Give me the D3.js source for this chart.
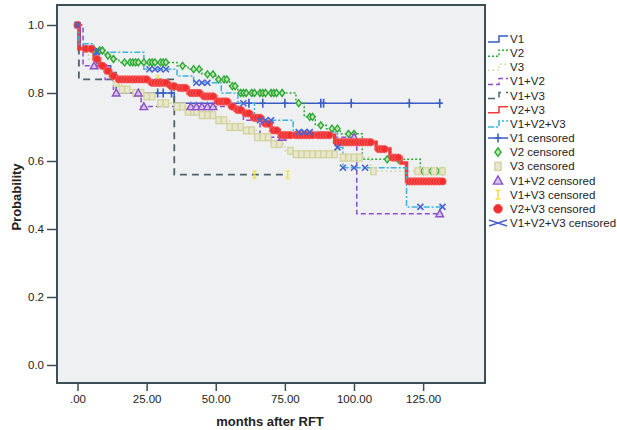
<!DOCTYPE html>
<html>
<head>
<meta charset="utf-8">
<script src="https://cdn.jsdelivr.net/npm/d3@7"></script>
<style>
  body { margin: 0; background: #fff; }
  svg text { font-family: "Liberation Sans", Arial, sans-serif; fill: #222; }
</style>
</head>
<body>
<svg id="chart" width="617" height="430"></svg>
<script>
// group names in legend order
const groups = ["V1", "V2", "V3", "V1+V2", "V1+V3", "V2+V3", "V1+V2+V3"];

// step curves: time of each step and survival after it, plus last follow-up
const v1Times = [0, 1, 7, 12, 14, 35];
const v1Surv = [1.0, 0.93, 0.88, 0.86, 0.80, 0.77];
const v1Censor = [29, 31, 34, 62, 67, 75, 88, 89, 99, 120, 131];

const v2Times = [0, 0.5, 5, 10, 12, 15, 36, 40, 45, 50, 55, 58, 79, 82, 86, 90, 95, 103, 124];
const v2Surv = [1.0, 0.935, 0.925, 0.91, 0.90, 0.89, 0.88, 0.87, 0.855, 0.84, 0.82, 0.80, 0.77, 0.73, 0.705, 0.695, 0.68, 0.605, 0.57];
const v2Censor = [6, 8, 9, 11, 13, 17, 19, 20, 21, 22, 24, 26, 27, 28, 30, 31, 32, 38, 42, 44, 47, 49, 51, 53, 54, 56, 57, 59, 60, 61, 63, 64, 66, 67, 68, 70, 71, 72, 74, 80, 84, 85, 88, 92, 94, 98, 100, 112, 116, 125, 128, 130, 132];

const v3Times = [0, 0.5, 4, 7, 10, 13, 16, 20, 25, 30, 35, 40, 45, 50, 55, 60, 65, 70, 75, 78, 95, 106];
const v3Surv = [1.0, 0.93, 0.90, 0.87, 0.85, 0.83, 0.81, 0.80, 0.79, 0.77, 0.76, 0.745, 0.735, 0.72, 0.70, 0.69, 0.67, 0.65, 0.63, 0.62, 0.61, 0.57];
const v3Censor = [14, 16, 18, 21, 23, 25, 27, 30, 32, 36, 38, 40, 42, 43, 45, 47, 49, 51, 53, 55, 57, 59, 61, 63, 65, 67, 69, 71, 73, 77, 79, 81, 83, 85, 87, 89, 91, 93, 96, 98, 100, 102, 107, 123, 126, 129, 132];

const v12Times = [0, 2, 10, 13, 23, 60, 66, 101];
const v12Surv = [1.0, 0.88, 0.84, 0.80, 0.76, 0.72, 0.67, 0.445];
const v12Censor = [6, 14, 22, 24, 41, 43, 45, 47, 49, 74, 100, 131];

const v13Times = [0, 0.5, 35];
const v13Surv = [1.0, 0.84, 0.56];
const v13Censor = [29, 64, 76];

const v23Times = [0, 0.5, 6, 8, 10, 12, 14, 26, 33, 36, 40, 45, 50, 55, 57, 60, 63, 67, 70, 73, 93, 108, 113, 117, 119];
const v23Surv = [1.0, 0.93, 0.90, 0.88, 0.865, 0.85, 0.84, 0.83, 0.82, 0.815, 0.80, 0.79, 0.775, 0.76, 0.75, 0.74, 0.727, 0.71, 0.69, 0.676, 0.655, 0.635, 0.61, 0.594, 0.54];
const v23Censor = [3, 5, 7, 9, 11, 13, 15, 16, 17, 18, 19, 20, 21, 22, 23, 24, 25, 27, 28, 29, 30, 31, 32, 34, 35, 37, 38, 39, 41, 42, 43, 44, 46, 47, 48, 49, 51, 52, 53, 54, 56, 58, 59, 61, 62, 64, 65, 66, 68, 69, 71, 72, 74, 75, 76, 77, 79, 80, 81, 82, 83, 84, 85, 87, 88, 89, 90, 91, 94, 95, 96, 97, 98, 99, 100, 101, 102, 103, 104, 105, 106, 109, 110, 111, 114, 115, 116, 120, 121, 122, 123, 124, 125, 126, 127, 128, 129, 130, 131, 132];

const v123Times = [0, 0.5, 6, 24, 36, 42, 52, 58, 64, 78, 94, 96, 119];
const v123Surv = [1.0, 0.945, 0.92, 0.87, 0.85, 0.83, 0.80, 0.77, 0.72, 0.685, 0.64, 0.58, 0.465];
const v123Censor = [7, 26, 28, 30, 32, 43, 45, 47, 60, 66, 68, 70, 80, 82, 84, 94, 96, 100, 104, 124, 132];

const lastTime = [132, 132, 132, 132, 76, 132, 132];

const xTicks = [0, 25, 50, 75, 100, 125];
const yTicks = [0, 0.2, 0.4, 0.6, 0.8, 1.0];

const series = [
  { times: v1Times, surv: v1Surv, censor: v1Censor, color: "#3a5cc6", dash: null, width: 1.5, mark: "plus" },
  { times: v2Times, surv: v2Surv, censor: v2Censor, color: "#2ea836", dash: "2,2", width: 1.5, mark: "diamond" },
  { times: v3Times, surv: v3Surv, censor: v3Censor, color: "#cfcf9c", dash: "1.5,3", width: 1.5, mark: "square" },
  { times: v12Times, surv: v12Surv, censor: v12Censor, color: "#8c50c8", dash: "5,3", width: 1.5, mark: "triangle" },
  { times: v13Times, surv: v13Surv, censor: v13Censor, color: "#4e6370", dash: "7,5", width: 1.8, mark: "bar" },
  { times: v23Times, surv: v23Surv, censor: v23Censor, color: "#f03a3a", dash: null, width: 3.5, mark: "circle" },
  { times: v123Times, surv: v123Surv, censor: v123Censor, color: "#3cb4dc", dash: "6,2,2,2", width: 1.5, mark: "x" }
];

const markColor = {
  plus: "#3a5cc6", diamond: "#2ea836", square: "#d4d4a0", triangle: "#8c50c8",
  bar: "#f2e25a", circle: "#f03030", x: "#4a62d0"
};

const svg = d3.select("#chart");

const x = d3.scaleLinear().domain([0, 125]).range([77.5, 77.5 + 125 * 2.765]);
const y = d3.scaleLinear().domain([0, 1]).range([365, 25]);

// plot background and frame
svg.append("rect")
  .attr("x", 57).attr("y", 5).attr("width", 428).attr("height", 378)
  .attr("fill", "#eef0f2");

// axes
svg.append("g")
  .attr("transform", "translate(57,0)")
  .call(d3.axisLeft(y).tickValues(yTicks).tickFormat(d3.format(".1f")).tickSize(10).tickPadding(3))
  .call(g => g.select(".domain").remove())
  .call(g => g.selectAll("line").attr("stroke", "#3b4f55").attr("stroke-width", 1.5))
  .call(g => g.selectAll("text").attr("font-size", 11.5).attr("fill", "#333"));

svg.append("g")
  .attr("transform", "translate(0,383)")
  .call(d3.axisBottom(x).tickValues(xTicks).tickFormat(d => d === 0 ? ".00" : d3.format(".2f")(d)).tickSize(8).tickPadding(4))
  .call(g => g.select(".domain").remove())
  .call(g => g.selectAll("line").attr("stroke", "#3b4f55").attr("stroke-width", 1.5))
  .call(g => g.selectAll("text").attr("font-size", 11.5).attr("fill", "#333"));

svg.append("text")
  .attr("x", 270).attr("y", 426)
  .attr("text-anchor", "middle")
  .attr("font-size", 13).attr("font-weight", "bold")
  .text("months after RFT");

svg.append("text")
  .attr("transform", "translate(21,197) rotate(-90)")
  .attr("text-anchor", "middle")
  .attr("font-size", 13).attr("font-weight", "bold")
  .text("Probability");

const plot = svg.append("g");

function survAt(s, t) {
  let v = s.surv[0];
  s.times.forEach((tt, i) => { if (tt <= t) v = s.surv[i]; });
  return v;
}

const line = d3.line().x(d => x(d[0])).y(d => y(d[1])).curve(d3.curveStepAfter);

series.forEach((s, i) => {
  const pts = s.times.map((t, j) => [t, s.surv[j]]);
  pts.push([lastTime[i], s.surv[s.surv.length - 1]]);
  plot.append("path")
    .attr("d", line(pts))
    .attr("fill", "none")
    .attr("stroke", s.color)
    .attr("stroke-width", s.width)
    .attr("stroke-dasharray", s.dash);
});

function drawMark(g, type, cx, cy, scale) {
  const c = markColor[type];
  const k = scale || 1;
  if (type === "plus") {
    g.append("path").attr("d", `M${cx},${cy - 4.5 * k}V${cy + 4.5 * k}M${cx - 3 * k},${cy}H${cx + 3 * k}`)
      .attr("stroke", c).attr("stroke-width", 1.6).attr("fill", "none");
  } else if (type === "diamond") {
    g.append("path").attr("d", `M${cx},${cy - 3.5 * k}L${cx + 2.6 * k},${cy}L${cx},${cy + 3.5 * k}L${cx - 2.6 * k},${cy}Z`)
      .attr("stroke", c).attr("stroke-width", 1.4).attr("fill", "#bfe6b0");
  } else if (type === "square") {
    g.append("rect").attr("x", cx - 2.6 * k).attr("y", cy - 3.4 * k).attr("width", 5.2 * k).attr("height", 6.8 * k)
      .attr("stroke", c).attr("stroke-width", 1.4).attr("fill", "#e8e8cf");
  } else if (type === "triangle") {
    g.append("path").attr("d", `M${cx},${cy - 3.8 * k}L${cx + 3.8 * k},${cy + 3 * k}L${cx - 3.8 * k},${cy + 3 * k}Z`)
      .attr("stroke", c).attr("stroke-width", 1.4).attr("fill", "#d6c6ee");
  } else if (type === "bar") {
    g.append("path").attr("d", `M${cx - 2 * k},${cy - 3.5 * k}H${cx + 2 * k}M${cx},${cy - 3.5 * k}V${cy + 3.5 * k}M${cx - 2 * k},${cy + 3.5 * k}H${cx + 2 * k}`)
      .attr("stroke", c).attr("stroke-width", 1.8).attr("fill", "none");
  } else if (type === "circle") {
    g.append("circle").attr("cx", cx).attr("cy", cy).attr("r", 3.7 * k)
      .attr("fill", c).attr("stroke", "#f86060").attr("stroke-width", 0.8);
  } else if (type === "x") {
    g.append("path").attr("d", `M${cx - 3 * k},${cy - 3 * k}L${cx + 3 * k},${cy + 3 * k}M${cx - 3 * k},${cy + 3 * k}L${cx + 3 * k},${cy - 3 * k}`)
      .attr("stroke", c).attr("stroke-width", 1.6).attr("fill", "none");
  }
}

series.forEach(s => {
  const g = plot.append("g");
  s.censor.forEach(t => drawMark(g, s.mark, x(t), y(survAt(s, t))));
});

// starting point marks
drawMark(plot.append("g"), "circle", x(0), y(1));
drawMark(plot.append("g"), "x", x(0), y(1));

// frame on top
svg.append("rect")
  .attr("x", 57).attr("y", 5).attr("width", 428).attr("height", 378)
  .attr("fill", "none").attr("stroke", "#3b4f55").attr("stroke-width", 2);

// legend
const legend = svg.append("g");
const rowH = 14.15;
groups.forEach((name, i) => {
  const ly = 39 + i * rowH;
  const s = series[i];
  legend.append("path")
    .attr("d", `M488,${ly + 3}H499V${ly - 3}H508`)
    .attr("fill", "none").attr("stroke", s.color).attr("stroke-width", 1.5)
    .attr("stroke-dasharray", s.dash);
  legend.append("text").attr("x", 510).attr("y", ly + 4).attr("font-size", 11.5).attr("fill", "#333").text(name);
});
groups.forEach((name, i) => {
  const ly = 39 + (i + 7) * rowH;
  const s = series[i];
  const g = legend.append("g");
  if (s.mark === "plus") {
    g.append("path").attr("d", `M488,${ly}H508`).attr("stroke", markColor.plus).attr("stroke-width", 1.5);
    drawMark(g, "plus", 498, ly);
  } else if (s.mark === "x") {
    g.append("path").attr("d", `M489,${ly - 3}L507,${ly + 3}M489,${ly + 3}L507,${ly - 3}`)
      .attr("stroke", markColor.x).attr("stroke-width", 1.5).attr("fill", "none");
  } else {
    drawMark(g, s.mark, 498, ly, 1.2);
  }
  legend.append("text").attr("x", 510).attr("y", ly + 4).attr("font-size", 11.5).attr("fill", "#333").text(name + " censored");
});
</script>
</body>
</html>
